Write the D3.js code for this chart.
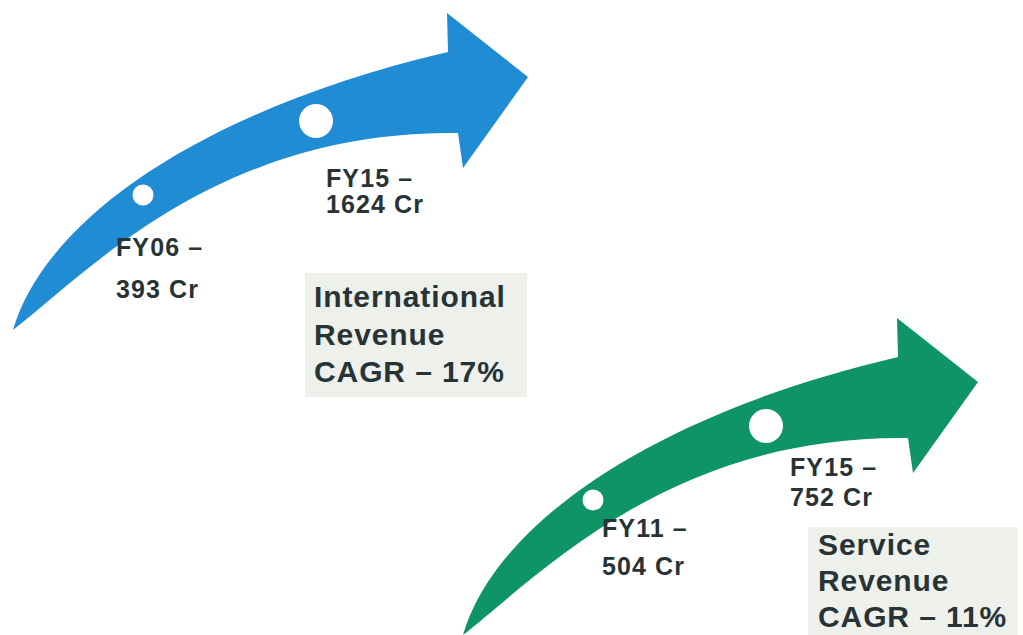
<!DOCTYPE html>
<html>
<head>
<meta charset="utf-8">
<script src="https://cdn.jsdelivr.net/npm/d3@7"></script>
<style>
  html, body { margin: 0; padding: 0; background: #ffffff; }
  svg { display: block; }
</style>
</head>
<body>
<svg id="chart" width="1023" height="635"></svg>
<script>
// ---- data ----
const segments     = ["International", "Service"];
const startYears   = ["FY06", "FY11"];
const startValues  = [393, 504];
const endYears     = ["FY15", "FY15"];
const endValues    = [1624, 752];
const cagrValues   = [17, 11];
const unit = "Cr";

// ---- layout ----
const svg = d3.select("#chart");
const color = d3.scaleOrdinal().domain(segments).range(["#1f8cd4", "#0f9466"]);
const offsets = [[0, 0], [450, 305]];
const textColor = "#283336";

function arrowPath() {
  const p = d3.path();
  p.moveTo(13, 330);
  p.bezierCurveTo(45, 220, 200, 110, 448, 52);
  p.lineTo(447, 13);
  p.lineTo(528, 77);
  p.lineTo(463, 168);
  p.lineTo(458, 133);
  p.bezierCurveTo(220, 130, 90, 270, 13, 330);
  p.closePath();
  return p.toString();
}

// label placement per arrow (layout, not data)
const startLabelPos = [{x: 116, y1: 256, y2: 298}, {x: 602, y1: 537, y2: 575}];
const endLabelPos   = [{x: 326, y1: 187, y2: 213}, {x: 790, y1: 476, y2: 506}];
const boxPos = [
  {x: 305, y: 273, w: 222, h: 124, tx: 314, ty: 307, dy: 37.5},
  {x: 808, y: 527, w: 210, h: 108, tx: 818, ty: 555, dy: 36}
];

segments.forEach((seg, i) => {
  const g = svg.append("g").attr("transform", `translate(${offsets[i][0]},${offsets[i][1]})`);
  g.append("path").attr("d", arrowPath()).attr("fill", color(seg));
  g.append("circle").attr("cx", 143).attr("cy", 195).attr("r", 10.5).attr("fill", "#fff");
  g.append("circle").attr("cx", 316).attr("cy", 121).attr("r", 17).attr("fill", "#fff");

  const lbl = (pos, yr, val) => {
    const t = svg.append("text")
      .attr("font-family", "Liberation Sans, Arial, sans-serif")
      .attr("font-weight", "bold")
      .attr("font-size", 25)
      .attr("letter-spacing", 1.1)
      .attr("fill", textColor);
    t.append("tspan").attr("x", pos.x).attr("y", pos.y1).text(`${yr} –`);
    t.append("tspan").attr("x", pos.x).attr("y", pos.y2).text(`${val} ${unit}`);
  };
  lbl(startLabelPos[i], startYears[i], startValues[i]);
  lbl(endLabelPos[i], endYears[i], endValues[i]);

  const b = boxPos[i];
  svg.append("rect").attr("x", b.x).attr("y", b.y).attr("width", b.w).attr("height", b.h)
    .attr("fill", "#eef0ec");
  const t = svg.append("text")
    .attr("font-family", "Liberation Sans, Arial, sans-serif")
    .attr("font-weight", "bold")
    .attr("font-size", 30)
    .attr("letter-spacing", 0.9)
    .attr("fill", textColor);
  [seg, "Revenue", `CAGR – ${cagrValues[i]}%`].forEach((line, k) => {
    t.append("tspan").attr("x", b.tx).attr("y", b.ty + k * b.dy).text(line);
  });
});
</script>
</body>
</html>
